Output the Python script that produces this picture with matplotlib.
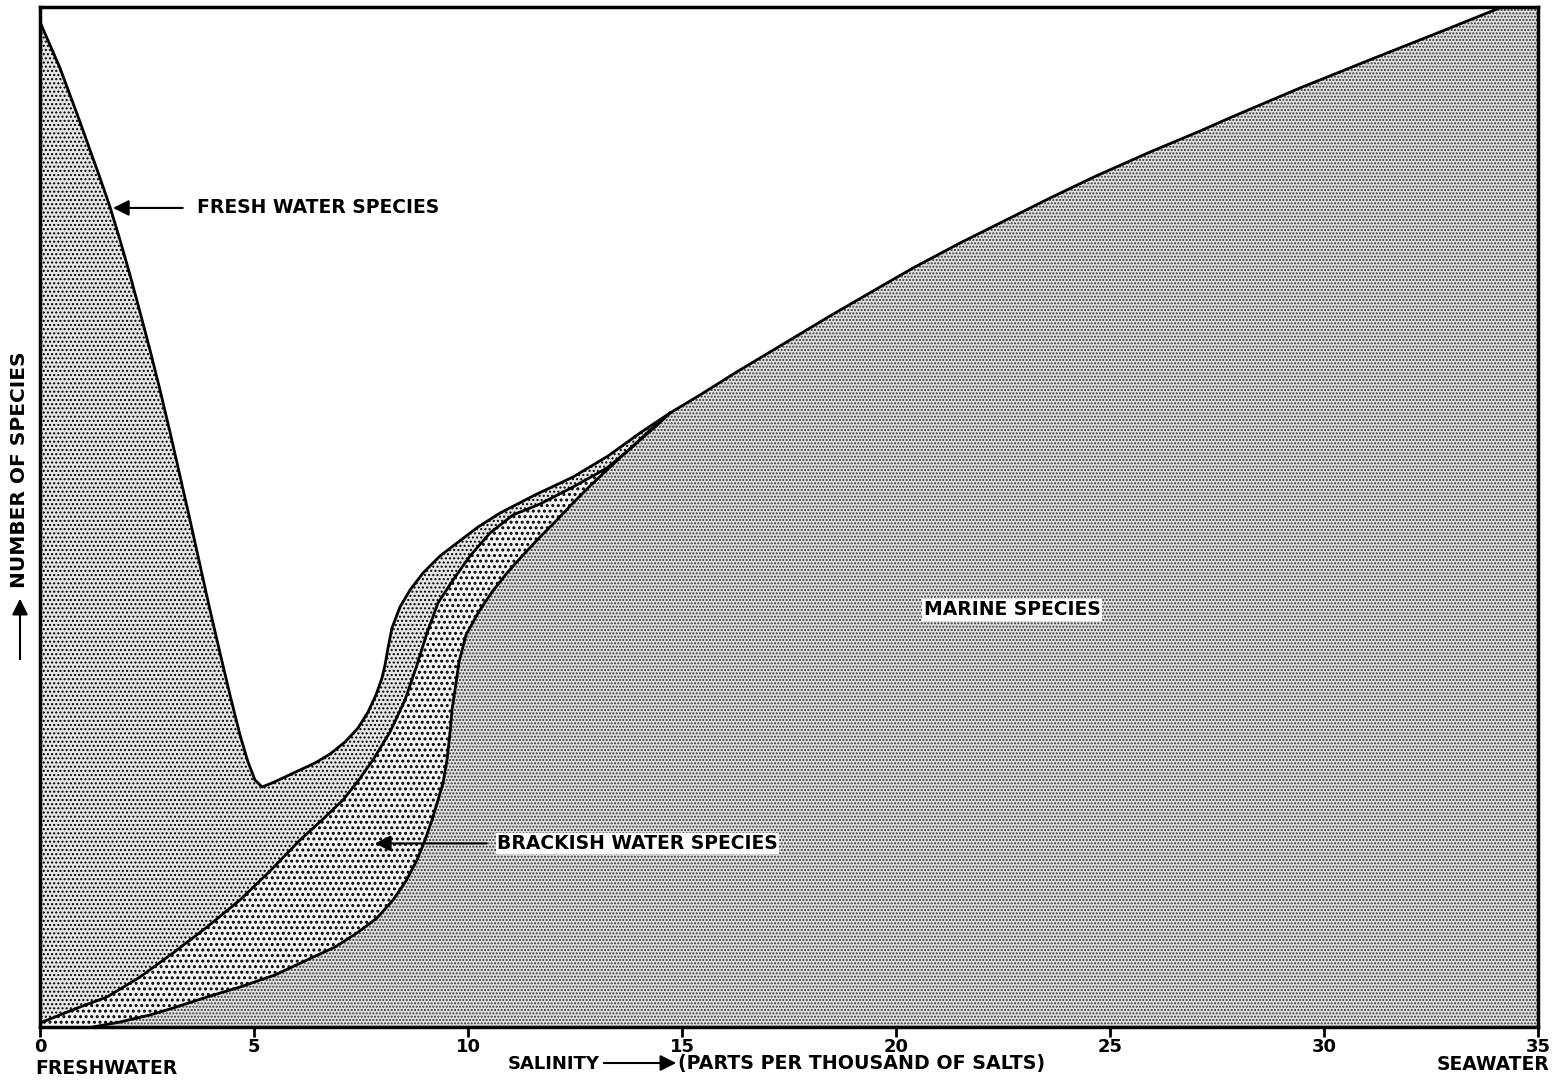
import matplotlib
matplotlib.use("Agg")
import matplotlib.pyplot as plt
from matplotlib.patches import FancyArrowPatch

# ---- data (salinity in parts per thousand, number of species on a 0-100 relative scale) ----
# upper boundary: total species (fresh water curve down to its minimum and up to the junction)
top_x = [0.000, 0.234, 0.467, 0.701, 0.935, 1.168, 1.402, 1.636, 1.869, 2.103, 2.336, 2.570,
         2.804, 3.037, 3.271, 3.505, 3.738, 3.972, 4.206, 4.439, 4.673, 4.860, 5.023, 5.187,
         5.421, 5.724, 6.075, 6.425, 6.776, 7.126, 7.430, 7.664, 7.850, 7.991, 8.061, 8.131,
         8.224, 8.411, 8.645, 8.949, 9.346, 9.743, 10.234, 10.748, 11.565, 12.453, 13.271,
         14.019, 14.720]
top_y = [98.53, 96.27, 94.02, 91.37, 88.73, 85.98, 83.24, 80.39, 77.16, 73.73, 70.10, 66.37,
         62.45, 58.33, 54.02, 49.71, 45.29, 40.88, 36.67, 32.55, 28.63, 25.98, 24.22, 23.53,
         23.92, 24.51, 25.20, 25.88, 26.76, 27.94, 29.31, 30.88, 32.55, 34.22, 35.49, 37.16,
         39.12, 41.18, 42.84, 44.51, 46.18, 47.45, 49.02, 50.39, 52.16, 53.92, 55.98,
         58.24, 60.20]
# marine upper curve beyond the junction
marine_x = [14.720, 15.421, 16.238, 17.173, 18.458, 19.626, 20.397, 21.495, 22.430, 23.598,
            24.673, 25.935, 27.103, 27.897, 29.439, 31.238, 32.710, 34.159, 35.0]
marine_y = [60.20, 61.96, 64.12, 66.47, 69.71, 72.55, 74.41, 76.86, 78.82, 81.27,
            83.43, 85.78, 87.84, 89.31, 92.06, 95.10, 97.55, 100.0, 100.0]
# boundary between fresh water and brackish species
mid_x = [0.000, 0.467, 0.935, 1.565, 2.336, 3.107, 3.902, 4.673, 5.374, 6.075, 6.589, 7.079,
         7.430, 7.780, 8.178, 8.528, 8.785, 9.042, 9.299, 9.650, 10.047, 10.514, 11.051,
         11.682, 12.453, 13.248, 13.785, 14.182, 14.720]
mid_y = [0.39, 1.18, 1.96, 2.94, 4.90, 7.25, 9.80, 12.45, 15.29, 18.33, 20.29, 22.25,
         24.12, 26.18, 28.92, 32.06, 35.20, 38.63, 41.57, 43.82, 46.18, 48.43, 50.20,
         51.27, 52.94, 54.80, 56.67, 58.24, 60.20]
# boundary between brackish and marine species
low_x = [1.238, 1.869, 2.570, 3.107, 3.902, 4.673, 5.491, 6.238, 6.893, 7.407, 7.874, 8.248,
         8.551, 8.808, 8.995, 9.159, 9.299, 9.416, 9.509, 9.579, 9.626, 9.696, 9.790, 9.953,
         10.234, 10.561, 10.911, 11.285, 11.682, 12.079, 12.453, 12.850, 13.248, 13.621,
         14.019, 14.369, 14.720]
low_y = [0.00, 0.49, 1.18, 1.86, 2.94, 3.92, 5.10, 6.57, 7.84, 9.22, 10.69, 12.45,
         14.31, 16.37, 18.33, 20.29, 22.25, 23.92, 26.18, 28.82, 31.08, 33.04, 35.78, 38.43,
         40.59, 42.65, 44.51, 46.27, 48.04, 49.71, 51.37, 53.04, 54.61, 56.08,
         57.55, 58.82, 60.20]

xticks = [0, 5, 10, 15, 20, 25, 30, 35]

FONT = ['DejaVu Sans']
plt.rcParams['font.family'] = FONT
plt.rcParams['hatch.linewidth'] = 1.0

fig = plt.figure(figsize=(15.61, 10.81), dpi=100)
ax = fig.add_axes([40/1561, 1 - 1027/1081, (1538 - 40)/1561, (1027 - 7)/1081])
ax.set_xlim(0, 35)
ax.set_ylim(0, 100)


def set_hlw(patch, w):
    if hasattr(patch, 'set_hatch_linewidth'):
        patch.set_hatch_linewidth(w)


# fresh water region
fx = top_x + mid_x[::-1]
fy = top_y + mid_y[::-1]
p_f = ax.fill(fx, fy, facecolor='#e6e6e6', edgecolor='black', hatch='....', linewidth=0, zorder=1)[0]
set_hlw(p_f, 1.0)
# brackish region
bx = mid_x + low_x[::-1] + [0.0]
by = mid_y + low_y[::-1] + [0.0]
plt.rcParams['hatch.linewidth'] = 1.4
p_b = ax.fill(bx, by, facecolor='#f4f4f4', edgecolor='black', hatch='...', linewidth=0, zorder=1)[0]
set_hlw(p_b, 1.4)
plt.rcParams['hatch.linewidth'] = 1.0
# marine region
mx = low_x + marine_x[1:] + [35.0]
my = low_y + marine_y[1:] + [0.0]
p_m = ax.fill(mx, my, facecolor='#e2e2e2', edgecolor='#333333', hatch='.....', linewidth=0, zorder=1)[0]
set_hlw(p_m, 1.0)

# boundary lines
for xs, ys in [(top_x, top_y), (marine_x, marine_y), (mid_x, mid_y), (low_x, low_y)]:
    ax.plot(xs, ys, color='black', lw=2, zorder=3, solid_joinstyle='round')

for s in ax.spines.values():
    s.set_linewidth(2.5)
    s.set_zorder(4)

ax.set_xticks(xticks)
ax.set_xticklabels([str(t) for t in xticks], fontsize=13, fontweight='bold')
ax.set_yticks([])
ax.tick_params(axis='x', direction='out', length=7, width=2, pad=1)

# annotations
arrow_kw = dict(arrowstyle='-|>', color='black', lw=1.5, mutation_scale=24)
ax.annotate('', xy=(1.64, 80.3), xytext=(3.4, 80.3), arrowprops=arrow_kw, zorder=5)
ax.text(3.67, 80.3, 'FRESH WATER SPECIES', fontsize=13.5, fontweight='bold', va='center', ha='left', zorder=5)

ax.annotate('', xy=(7.76, 18.0), xytext=(10.5, 18.0), arrowprops=arrow_kw, zorder=5)
ax.text(10.68, 18.0, 'BRACKISH WATER SPECIES', fontsize=13.5, fontweight='bold', va='center', ha='left',
        zorder=5, bbox=dict(facecolor='white', edgecolor='none', pad=1))

ax.text(22.71, 40.9, 'MARINE SPECIES', fontsize=13.5, fontweight='bold', va='center', ha='center',
        zorder=5, bbox=dict(facecolor='white', edgecolor='none', pad=1))

# axis titles in figure coordinates
fig.text(35/1561, 1 - 1069/1081, 'FRESHWATER', fontsize=13.5, fontweight='bold', ha='left', va='center')
fig.text(1549/1561, 1 - 1064/1081, 'SEAWATER', fontsize=13.5, fontweight='bold', ha='right', va='center')
fig.text(600/1561, 1 - 1064/1081, 'SALINITY', fontsize=13, fontweight='bold', ha='right', va='center')
fig.text(678/1561, 1 - 1064/1081, '(PARTS PER THOUSAND OF SALTS)', fontsize=13.7, fontweight='bold',
         ha='left', va='center')
fig.add_artist(FancyArrowPatch((601/1561, 1 - 1063/1081), (679/1561, 1 - 1063/1081),
               transform=fig.transFigure, arrowstyle='-|>', mutation_scale=24, lw=1.5, color='black'))

fig.text(20/1561, 1 - 470/1081, 'NUMBER OF SPECIES', fontsize=14.5, fontweight='bold', rotation=90,
         ha='center', va='center')
fig.add_artist(FancyArrowPatch((20/1561, 1 - 662/1081), (20/1561, 1 - 596/1081),
               transform=fig.transFigure, arrowstyle='-|>', mutation_scale=24, lw=1.5, color='black'))

fig.savefig('out.png', dpi=100)
